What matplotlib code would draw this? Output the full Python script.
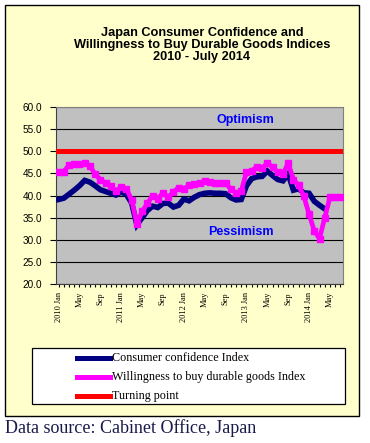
import matplotlib
matplotlib.use("Agg")
import matplotlib.pyplot as plt
from matplotlib.patches import Rectangle
from matplotlib.lines import Line2D
import numpy as np

months = ["Jan", "Feb", "Mar", "Apr", "May", "Jun", "Jul", "Aug", "Sep", "Oct", "Nov", "Dec"]
categories = [f"{y} {m}" for y in range(2010, 2015) for m in months][:55]

consumer_confidence = [
    39.1, 39.4, 40.3, 41.2, 42.2, 43.4, 43.0, 42.2, 41.3, 40.9, 40.5, 40.1,
    40.8, 40.2, 38.3, 33.4, 35.0, 36.6, 37.6, 37.3, 38.2, 38.3, 37.4, 37.8,
    39.2, 38.8, 39.6, 40.2, 40.5, 40.6, 40.5, 40.5, 40.4, 39.5, 39.0, 39.1,
    42.2, 43.8, 44.2, 44.3, 45.5, 44.5, 43.6, 43.3, 44.8, 41.2, 41.5, 40.6,
    40.5, 38.7, 37.8, 37.0,
]
durable_goods = [
    45.4, 45.4, 46.9, 47.1, 47.0, 47.4, 46.6, 44.8, 43.6, 42.8, 42.1, 41.0,
    42.0, 41.5, 39.0, 33.6, 36.4, 38.2, 40.0, 39.3, 40.6, 39.6, 40.8, 41.8,
    41.5, 42.3, 42.5, 42.8, 43.2, 43.0, 42.9, 42.9, 42.9, 41.4, 40.6, 41.0,
    45.3, 45.5, 46.5, 46.2, 47.3, 46.4, 45.2, 44.9, 47.3, 43.6, 42.3, 39.8,
    35.8, 32.0, 30.3, 35.0, 39.6, 39.6, 39.6,
]
turning_point = 50.0

tick_labels = ["2010 Jan", "May", "Sep", "2011 Jan", "May", "Sep", "2012 Jan", "May", "Sep",
               "2013 Jan", "May", "Sep", "2014 Jan", "May"]

W, H = 370, 443
fig = plt.figure(figsize=(W / 100, H / 100), dpi=100)
fig.patch.set_facecolor("white")

def fx(x):
    return x / W

def fy(y):
    return 1 - y / H

# outer yellow chart area
fig.add_artist(Rectangle((fx(5), fy(416)), (359 - 5) / W, (416 - 5) / H,
                         facecolor="#FFFFCC", edgecolor="black", lw=1.0,
                         transform=fig.transFigure, zorder=0))

ax = fig.add_axes([fx(56), fy(284.3), (343 - 56) / W, (284.3 - 106.7) / H])
ax.set_facecolor("#C0C0C0")

n = len(categories)
x_all = np.arange(n)
ax.axhline(turning_point, color="#FF0000", lw=3.6, zorder=3)
ax.plot(np.arange(len(consumer_confidence)), consumer_confidence, color="#000080", lw=4.0,
        solid_joinstyle="miter", zorder=4)
ax.plot(np.arange(len(durable_goods)), durable_goods, color="#FF00FF", lw=3.4,
        marker="s", markersize=4.0, markeredgecolor="#FF00FF", zorder=5)

ax.set_xlim(-0.5, n - 0.5)
ax.set_ylim(20, 60)
ax.set_yticks(np.arange(20, 61, 5))
ax.set_yticklabels([f"{v:.1f}" for v in np.arange(20, 61, 5)], fontsize=7.2,
                   fontfamily="Liberation Sans")
ax.yaxis.grid(True, color="black", lw=0.8)
ax.set_axisbelow(True)

ax.set_xticks(np.arange(0, n, 4))
ax.set_xticklabels(tick_labels, rotation=90, fontsize=6, fontfamily="Liberation Serif",
                   va="top", ha="center")
ax.set_xticks(x_all, minor=True)
ax.tick_params(axis="x", which="both", length=2.5, width=0.8, direction="out", pad=3)
ax.tick_params(axis="y", length=4, width=0.8, pad=6)

for s in ["top", "right"]:
    ax.spines[s].set_color("#808080")
ax.spines["left"].set_color("#404040")
ax.spines["bottom"].set_color("#404040")

ax.text(0.66, 0.925, "Optimism", transform=ax.transAxes, color="#0000FF", fontsize=9,
        fontweight="bold", fontfamily="Liberation Sans", ha="center", va="center")
ax.text(0.645, 0.295, "Pessimism", transform=ax.transAxes, color="#0000FF", fontsize=9,
        fontweight="bold", fontfamily="Liberation Sans", ha="center", va="center")

# title
title_lines = ["Japan Consumer Confidence and",
               "Willingness to Buy Durable Goods Indices",
               "2010 - July 2014"]
for i, t in enumerate(title_lines):
    fig.text(fx(202), fy(33 + i * 12), t, ha="center", va="center", fontsize=9.2,
             fontweight="bold", fontfamily="Liberation Sans")

# legend box
fig.add_artist(Rectangle((fx(31.7), fy(404.3)), (345 - 31.7) / W, (404.3 - 348.3) / H,
                         facecolor="white", edgecolor="black", lw=0.9,
                         transform=fig.transFigure, zorder=1))
legend_items = [("Consumer confidence Index", "#000080"),
                ("Willingness to buy durable goods Index", "#FF00FF"),
                ("Turning point", "#FF0000")]
for i, (label, col) in enumerate(legend_items):
    yy = 358.3 + i * 18.7
    fig.add_artist(Line2D([fx(77), fx(110)], [fy(yy), fy(yy)], color=col, lw=3.6,
                          transform=fig.transFigure, zorder=2))
    fig.text(fx(112), fy(yy), label, ha="left", va="center", fontsize=8.7,
             fontfamily="Liberation Serif", zorder=2)

fig.text(fx(5), fy(428), "Data source: Cabinet Office, Japan", ha="left", va="center",
         fontsize=13, fontfamily="Liberation Serif", color="#1a1a4a")

fig.savefig("out.png", dpi=100, facecolor="white")
